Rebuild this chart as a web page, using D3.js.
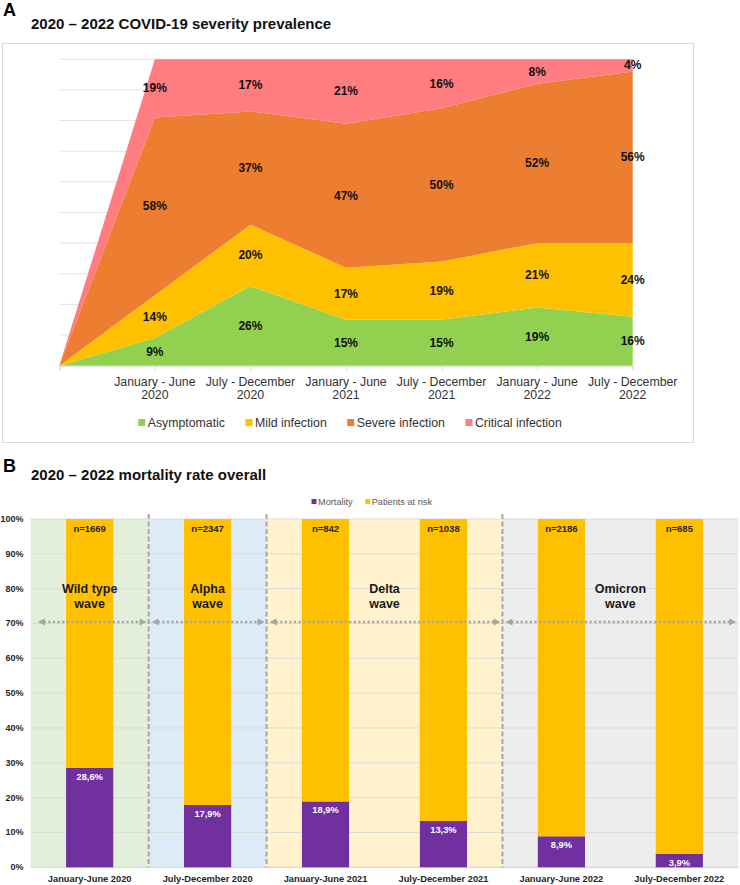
<!DOCTYPE html>
<html><head><meta charset="utf-8">
<script src="https://cdn.jsdelivr.net/npm/d3@7"></script>
<style>body{margin:0;background:#fff}svg{display:block;font-family:"Liberation Sans",Arial,sans-serif}</style>
</head><body><svg id="c" width="740" height="885"></svg>
<script>
// ---------- Panel A data ----------
const periodsA = ["January - June 2020","July - December 2020","January - June 2021","July - December 2021","January - June 2022","July - December 2022"];
const seriesA = ["Asymptomatic","Mild infection","Severe infection","Critical infection"];
const asymptomatic = [9,26,15,15,19,16];
const mild = [14,20,17,19,21,24];
const severe = [58,37,47,50,52,56];
const critical = [19,17,21,16,8,4];
const gridA = [0,10,20,30,40,50,60,70,80,90,100];
const colorsA = ["#92D050","#FFC000","#ED7D31","#FF7C80"];

// ---------- Panel B data ----------
const periodsB = ["January-June 2020","July-December 2020","January-June 2021","July-December 2021","January-June 2022","July-December 2022"];
const mortality = [28.6,17.9,18.9,13.3,8.9,3.9];
const patients = [1669,2347,842,1038,2186,685];
const waveNames = [["Wild type","wave"],["Alpha","wave"],["Delta","wave"],["Omicron","wave"]];
const waveFirst = [0,1,2,4];
const waveLast = [0,1,3,5];
const yTicksB = [0,10,20,30,40,50,60,70,80,90,100];
const seriesB = ["Mortality","Patients at risk"];
const colorsB = ["#7030A0","#FFC000"];
const waveColors = ["#E2EFDA","#DDEBF7","#FFF2CC","#EDEDED"];

const svg = d3.select("#c");

// ================= PANEL A =================
svg.append("rect").attr("x",2.5).attr("y",43.5).attr("width",691).attr("height",399)
  .attr("fill","#fff").attr("stroke","#d9d9d9").attr("stroke-width",1);
svg.append("text").attr("x",3).attr("y",16).attr("font-size",18).attr("font-weight","bold").text("A");
svg.append("text").attr("x",31).attr("y",29).attr("font-size",15).attr("font-weight","bold").attr("fill","#111")
  .text("2020 – 2022 COVID-19 severity prevalence");

const domA = ["__start", ...periodsA];
const xA = d3.scalePoint().domain(domA).range([59.3,632.7]);
const yA = d3.scaleLinear().domain([0,100]).range([365.7,59.3]);

svg.append("g").selectAll("line").data(gridA.slice(1)).join("line")
  .attr("x1",59.3).attr("x2",632.7).attr("y1",d=>yA(d)).attr("y2",d=>yA(d))
  .attr("stroke","#e3e3e3").attr("stroke-width",1);

const rowsA = [{period:"__start",Asymptomatic:0,"Mild infection":0,"Severe infection":0,"Critical infection":0}]
  .concat(periodsA.map((p,i)=>({period:p,Asymptomatic:asymptomatic[i],"Mild infection":mild[i],"Severe infection":severe[i],"Critical infection":critical[i]})));
const stackA = d3.stack().keys(seriesA)(rowsA);
const area = d3.area().x(d=>xA(d.data.period)).y0(d=>yA(d[0])).y1(d=>yA(d[1]));
svg.append("g").selectAll("path").data(stackA).join("path")
  .attr("d",area).attr("fill",(d,i)=>colorsA[i]);

// axis
const axA = svg.append("g").attr("transform",`translate(0,${yA(0)})`)
  .call(d3.axisBottom(xA).tickSize(5).tickFormat(""));
axA.select(".domain").attr("stroke","#d9d9d9");
axA.selectAll(".tick line").attr("stroke","#d9d9d9");
periodsA.forEach(p=>{
  const k = p.lastIndexOf(" ");
  const t = svg.append("text").attr("text-anchor","middle").attr("font-size",12.3).attr("fill","#333");
  t.append("tspan").attr("x",xA(p)).attr("y",385.5).text(p.slice(0,k));
  t.append("tspan").attr("x",xA(p)).attr("y",399).text(p.slice(k+1));
});

// value labels
stackA.forEach(layer=>{
  layer.forEach(d=>{
    if(d.data.period==="__start") return;
    svg.append("text").attr("x",xA(d.data.period)).attr("y",yA((d[0]+d[1])/2))
      .attr("text-anchor","middle").attr("dominant-baseline","central")
      .attr("font-size",12).attr("font-weight","bold").attr("fill","#111")
      .text((d[1]-d[0])+"%");
  });
});

// legend A
{
  const g = svg.append("g");
  let x = 0;
  seriesA.forEach((s,i)=>{
    g.append("rect").attr("x",x).attr("y",419).attr("width",7).attr("height",7).attr("fill",colorsA[i]);
    const t = g.append("text").attr("x",x+9.5).attr("y",427).attr("font-size",12.3).attr("fill","#333").text(s);
    x += 9.5 + t.node().getComputedTextLength() + 20.5;
  });
  const w = x - 20.5;
  g.attr("transform",`translate(${350 - w/2},0)`);
}

// ================= PANEL B =================
svg.append("text").attr("x",3).attr("y",472).attr("font-size",18).attr("font-weight","bold").text("B");
svg.append("text").attr("x",31).attr("y",480).attr("font-size",15).attr("font-weight","bold").attr("fill","#111")
  .text("2020 – 2022 mortality rate overall");

const xB = d3.scaleBand().domain(periodsB).range([30.7,738.3]).paddingInner(0).paddingOuter(0);
const yB = d3.scaleLinear().domain([0,100]).range([867.3,519]);

// wave backgrounds
waveFirst.forEach((f,i)=>{
  const x0 = xB(periodsB[f]), x1 = xB(periodsB[waveLast[i]]) + xB.bandwidth();
  svg.append("rect").attr("x",x0).attr("y",yB(100)).attr("width",x1-x0).attr("height",yB(0)-yB(100))
    .attr("fill",waveColors[i]);
});

// gridlines
svg.append("g").selectAll("line").data(yTicksB).join("line")
  .attr("x1",30.7).attr("x2",738.3).attr("y1",d=>yB(d)).attr("y2",d=>yB(d))
  .attr("stroke",d=>d===0?"#d0d0d0":"#dcdcdc").attr("stroke-width",1);

// y axis labels
svg.append("g").selectAll("text").data(yTicksB).join("text")
  .attr("x",23.5).attr("y",d=>yB(d)).attr("text-anchor","end").attr("dominant-baseline","central")
  .attr("font-size",9).attr("font-weight","bold").attr("fill","#262626").text(d=>d+"%");

// dashed separators
waveFirst.slice(1).forEach(f=>{
  const x = xB(periodsB[f]);
  svg.append("line").attr("x1",x).attr("x2",x).attr("y1",514).attr("y2",yB(0))
    .attr("stroke","#a6a6a6").attr("stroke-width",2).attr("stroke-dasharray","5,2.5");
});

// bars
const bw = xB.bandwidth()*0.4;
const rowsB = periodsB.map((p,i)=>({period:p,Mortality:mortality[i],"Patients at risk":+(100-mortality[i]).toFixed(1)}));
const stackB = d3.stack().keys(seriesB)(rowsB);
svg.append("g").selectAll("g").data(stackB).join("g").attr("fill",(d,i)=>colorsB[i])
  .selectAll("rect").data(d=>d).join("rect")
  .attr("x",d=>xB(d.data.period)+xB.bandwidth()/2-bw/2).attr("width",bw)
  .attr("y",d=>yB(d[1])).attr("height",d=>yB(d[0])-yB(d[1]));

// n labels
svg.append("g").selectAll("text").data(periodsB).join("text")
  .attr("x",p=>xB(p)+xB.bandwidth()/2).attr("y",528.7).attr("text-anchor","middle").attr("dominant-baseline","central")
  .attr("font-size",9.5).attr("font-weight","bold").attr("fill","#262626").text((p,i)=>"n="+patients[i]);

// mortality labels
svg.append("g").selectAll("text").data(periodsB).join("text")
  .attr("x",p=>xB(p)+xB.bandwidth()/2).attr("y",(p,i)=>yB(mortality[i])+9).attr("text-anchor","middle").attr("dominant-baseline","central")
  .attr("font-size",9.3).attr("font-weight","bold").attr("fill","#fff").text((p,i)=>String(mortality[i]).replace(".",",")+"%");

// x labels
svg.append("g").selectAll("text").data(periodsB).join("text")
  .attr("x",p=>xB(p)+xB.bandwidth()/2).attr("y",879).attr("text-anchor","middle").attr("dominant-baseline","central")
  .attr("font-size",9.3).attr("font-weight","bold").attr("fill","#262626").text(p=>p);

// arrows at ~70%
const ay = yB(70) - 1.5;
waveFirst.forEach((f,i)=>{
  const x0 = xB(periodsB[f]) + (i===0?7:3), x1 = xB(periodsB[waveLast[i]]) + xB.bandwidth() - 2;
  svg.append("line").attr("x1",x0+6).attr("x2",x1-6).attr("y1",ay).attr("y2",ay)
    .attr("stroke","#a6a6a6").attr("stroke-width",2.5).attr("stroke-dasharray","2.2,2.4");
  svg.append("path").attr("d",`M${x0},${ay}L${x0+7},${ay-3.5}L${x0+7},${ay+3.5}Z`).attr("fill","#a6a6a6");
  svg.append("path").attr("d",`M${x1},${ay}L${x1-7},${ay-3.5}L${x1-7},${ay+3.5}Z`).attr("fill","#a6a6a6");
  const cx = (xB(periodsB[f]) + xB(periodsB[waveLast[i]]) + xB.bandwidth())/2;
  const t = svg.append("text").attr("text-anchor","middle").attr("font-size",12.5).attr("font-weight","bold").attr("fill","#1a1a1a");
  t.append("tspan").attr("x",cx).attr("y",592.5).text(waveNames[i][0]);
  t.append("tspan").attr("x",cx).attr("y",607.5).text(waveNames[i][1]);
});

// legend B
{
  const g = svg.append("g");
  let x = 311.5;
  seriesB.forEach((s,i)=>{
    g.append("rect").attr("x",x).attr("y",499).attr("width",5).attr("height",5).attr("fill",colorsB[i]);
    const t = g.append("text").attr("x",x+6.5).attr("y",505).attr("font-size",9.2).attr("fill","#595959").text(s);
    x += 6.5 + t.node().getComputedTextLength() + 12.5;
  });
}
</script></body></html>
